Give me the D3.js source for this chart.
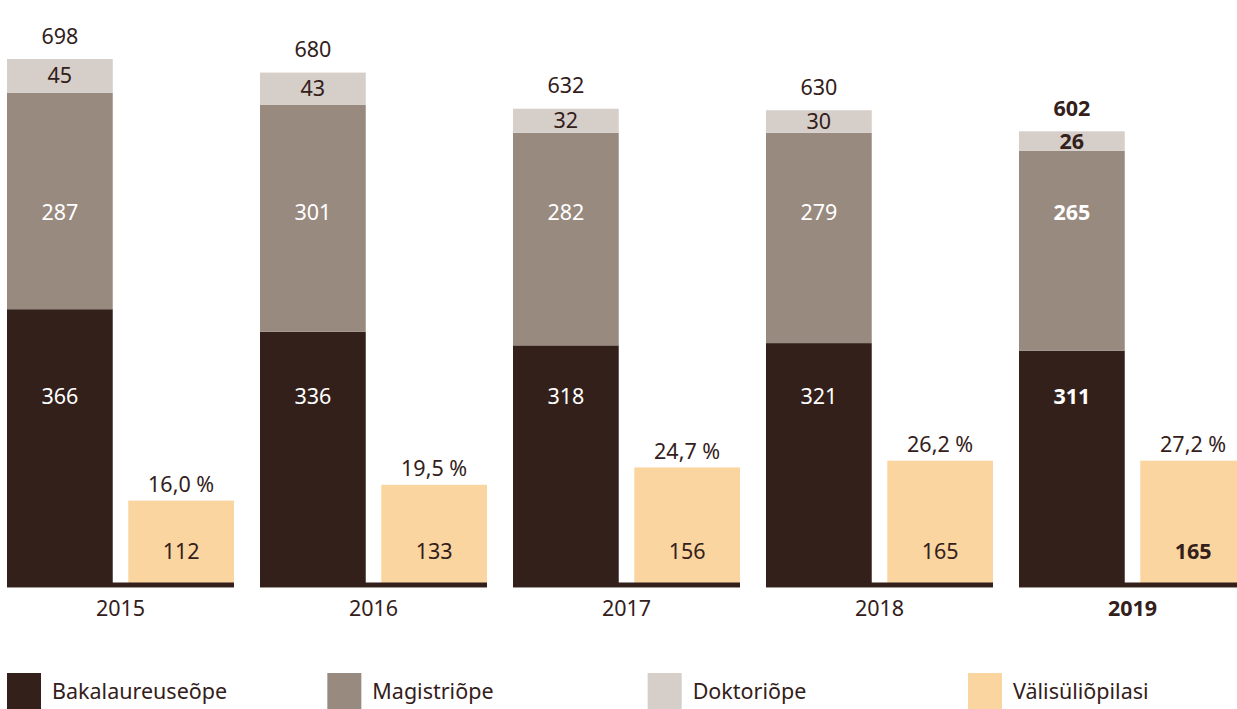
<!DOCTYPE html>
<html>
<head>
<meta charset="utf-8">
<script src="https://cdn.jsdelivr.net/npm/d3@7"></script>
<style>
  body { margin: 0; background: #fff; }
  text { font-family: "Noto Sans", sans-serif; }
</style>
</head>
<body>
<div id="chart"></div>
<script>
(function() {

    var w = 1237;
    var h = 709;

    // data
    var years = ["2015", "2016", "2017", "2018", "2019"];
    var bachelor = [366, 336, 318, 321, 311];
    var master = [287, 301, 282, 279, 265];
    var doctoral = [45, 43, 32, 30, 26];
    var foreign = [112, 133, 156, 165, 165];
    var foreignPct = ["16,0 %", "19,5 %", "24,7 %", "26,2 %", "27,2 %"];
    var seriesNames = ["Bakalaureuseõpe", "Magistriõpe", "Doktoriõpe", "Välisüliõpilasi"];
    var colors = ["#33201a", "#998a80", "#d6cec9", "#fad5a0"];
    var inkDark = "#33201a";

    var baseY = 585;
    var fs = 21.5;

    var svg = d3.select("#chart").append("svg")
        .attr("width", w)
        .attr("height", h);

    var x = d3.scaleBand()
        .domain(years)
        .range([7, 1246])
        .paddingInner(26 / 253)
        .paddingOuter(0);

    var xi = d3.scaleBand()
        .domain(["stack", "foreign"])
        .range([0, x.bandwidth()])
        .paddingInner(0.128)
        .paddingOuter(0);

    var y = d3.scaleLinear()
        .domain([0, 698])
        .range([baseY, 59]);

    var rows = years.map(function(yr, i) {
        return {
            year: yr, i: i,
            segs: [bachelor[i], master[i], doctoral[i]],
            total: bachelor[i] + master[i] + doctoral[i],
            foreign: foreign[i],
            pct: foreignPct[i],
            bold: i === years.length - 1
        };
    });

    var g = svg.selectAll("g.year")
        .data(rows)
        .enter()
        .append("g")
        .attr("class", "year")
        .attr("transform", function(d) { return "translate(" + x(d.year) + ",0)"; });

    // stacked segments
    g.each(function(d) {
        var gg = d3.select(this);
        var acc = 0;
        d.segs.forEach(function(v, k) {
            var y0 = y(acc), y1 = y(acc + v);
            gg.append("rect")
                .attr("x", xi("stack"))
                .attr("y", y1)
                .attr("width", xi.bandwidth())
                .attr("height", y0 - y1)
                .attr("fill", colors[k]);
            // bachelor/master labels sit at fixed heights like the source
            var ly = k === 0 ? y(250) : (k === 1 ? y(495) : (y0 + y1) / 2);
            gg.append("text")
                .attr("x", xi("stack") + xi.bandwidth() / 2)
                .attr("y", ly)
                .attr("dy", "0.35em")
                .attr("text-anchor", "middle")
                .attr("font-size", fs)
                .attr("font-weight", d.bold ? "bold" : "normal")
                .attr("fill", k < 2 ? "#fff" : inkDark)
                .text(v);
            acc += v;
        });

        // total above stack
        gg.append("text")
            .attr("x", xi("stack") + xi.bandwidth() / 2)
            .attr("y", y(d.total) - 23)
            .attr("dy", "0.35em")
            .attr("text-anchor", "middle")
            .attr("font-size", fs)
            .attr("font-weight", d.bold ? "bold" : "normal")
            .attr("fill", inkDark)
            .text(d.total);

        // foreign students
        gg.append("rect")
            .attr("x", xi("foreign"))
            .attr("y", y(d.foreign))
            .attr("width", xi.bandwidth())
            .attr("height", baseY - y(d.foreign))
            .attr("fill", colors[3]);

        gg.append("text")
            .attr("x", xi("foreign") + xi.bandwidth() / 2)
            .attr("y", y(44))
            .attr("dy", "0.35em")
            .attr("text-anchor", "middle")
            .attr("font-size", fs)
            .attr("font-weight", d.bold ? "bold" : "normal")
            .attr("fill", inkDark)
            .text(d.foreign);

        gg.append("text")
            .attr("x", xi("foreign") + xi.bandwidth() / 2)
            .attr("y", y(d.foreign) - 16)
            .attr("dy", "0.35em")
            .attr("text-anchor", "middle")
            .attr("font-size", fs)
            .attr("fill", inkDark)
            .text(d.pct);

        // base line under each group
        gg.append("rect")
            .attr("x", 0)
            .attr("y", baseY + 1.5)
            .attr("width", x.bandwidth())
            .attr("height", 1.5)
            .attr("fill", "#a09893");
        gg.append("rect")
            .attr("x", 0)
            .attr("y", baseY - 2.5)
            .attr("width", x.bandwidth())
            .attr("height", 4.5)
            .attr("fill", inkDark);

        // year label
        gg.append("text")
            .attr("x", x.bandwidth() / 2)
            .attr("y", 608)
            .attr("dy", "0.35em")
            .attr("text-anchor", "middle")
            .attr("font-size", fs)
            .attr("font-weight", d.bold ? "bold" : "normal")
            .attr("fill", inkDark)
            .text(d.year);
    });

    // legend
    var lx = d3.scalePoint()
        .domain(seriesNames)
        .range([7, 968]);

    var lg = svg.selectAll("g.legend")
        .data(seriesNames)
        .enter()
        .append("g")
        .attr("class", "legend")
        .attr("transform", function(d) { return "translate(" + lx(d) + ",673)"; });

    lg.append("rect")
        .attr("width", 34)
        .attr("height", 36)
        .attr("fill", function(d, i) { return colors[i]; });

    lg.append("text")
        .attr("x", 45)
        .attr("y", 18)
        .attr("dy", "0.35em")
        .attr("font-size", fs)
        .attr("fill", inkDark)
        .text(function(d) { return d; });

})();
</script>
</body>
</html>
